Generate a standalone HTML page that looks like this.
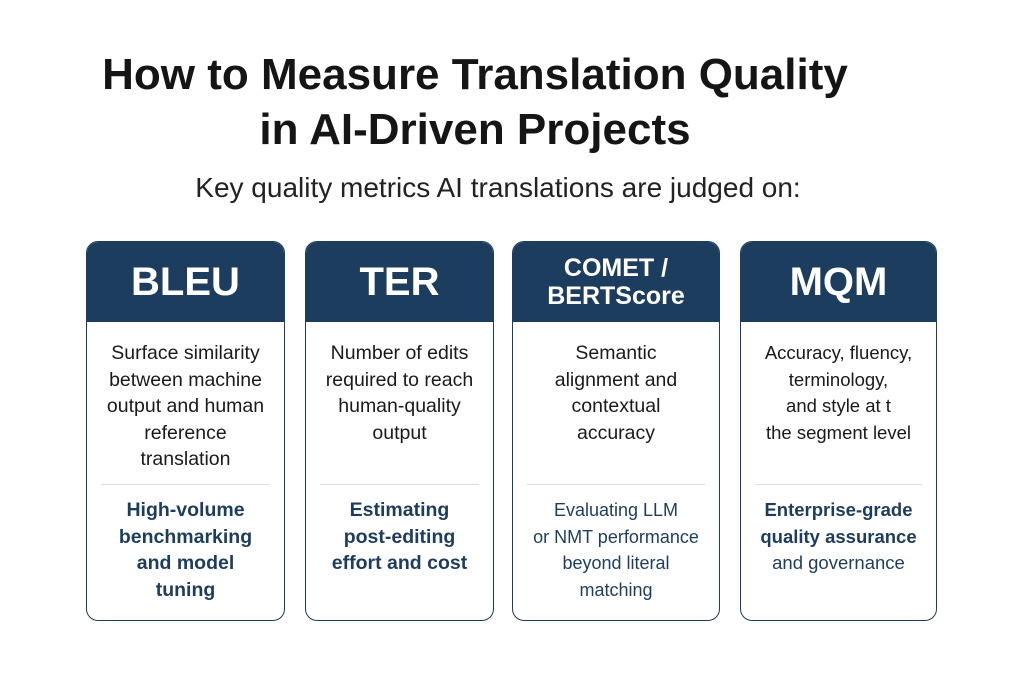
<!DOCTYPE html>
<html><head><meta charset="utf-8"><style>
body{margin:0;width:1024px;height:683px;background:#fff;font-family:"Liberation Sans",sans-serif;position:relative;overflow:hidden}
.t{position:absolute;left:0;width:950px;text-align:center;font-weight:bold;font-size:44px;color:#151515}
.sub{position:absolute;left:0;width:996px;text-align:center;top:172px;font-size:28px;color:#222}
.card{position:absolute;top:241px;height:378px;border:1.5px solid #1d3d5f;border-radius:12px;overflow:hidden;background:#fff}
.h{height:80px;background:#1d3d5f;color:#fff;font-weight:bold;display:flex;align-items:center;justify-content:center;text-align:center;font-size:40px}
.d{position:absolute;top:98px;left:0;right:0;text-align:center;font-size:19.5px;line-height:26.5px;color:#1a1a1a}
.l{position:absolute;top:242px;left:14px;right:14px;border-top:1px solid #ddd}
.u{position:absolute;top:255px;left:0;right:0;text-align:center;font-size:19.5px;line-height:26.5px;color:#1d3d5f;font-weight:bold}
</style></head><body>
<div class="t" style="top:50px">How to Measure Translation Quality</div>
<div class="t" style="top:105px">in AI-Driven Projects</div>
<div class="sub">Key quality metrics AI translations are judged on:</div>
<div class="card" style="left:86px;width:197px"><div class="h">BLEU</div>
<div class="d">Surface similarity<br>between machine<br>output and human<br>reference<br>translation</div><div class="l"></div>
<div class="u">High-volume<br>benchmarking<br>and model<br>tuning</div></div>
<div class="card" style="left:305px;width:187px"><div class="h">TER</div>
<div class="d">Number of edits<br>required to reach<br>human-quality<br>output</div><div class="l"></div>
<div class="u">Estimating<br>post-editing<br>effort and cost</div></div>
<div class="card" style="left:512px;width:206px"><div class="h" style="font-size:25px;line-height:28px">COMET /<br>BERTScore</div>
<div class="d">Semantic<br>alignment and<br>contextual<br>accuracy</div><div class="l"></div>
<div class="u" style="font-weight:normal;color:#1d3d5f;font-size:18px">Evaluating LLM<br>or NMT performance<br>beyond literal<br>matching</div></div>
<div class="card" style="left:740px;width:195px"><div class="h">MQM</div>
<div class="d" style="font-size:18.5px">Accuracy, fluency,<br>terminology,<br>and style at t<br>the segment level</div><div class="l"></div>
<div class="u" style="font-size:18.5px">Enterprise-grade<br>quality assurance<br><span style="font-weight:normal">and governance</span></div></div>
</body></html>
